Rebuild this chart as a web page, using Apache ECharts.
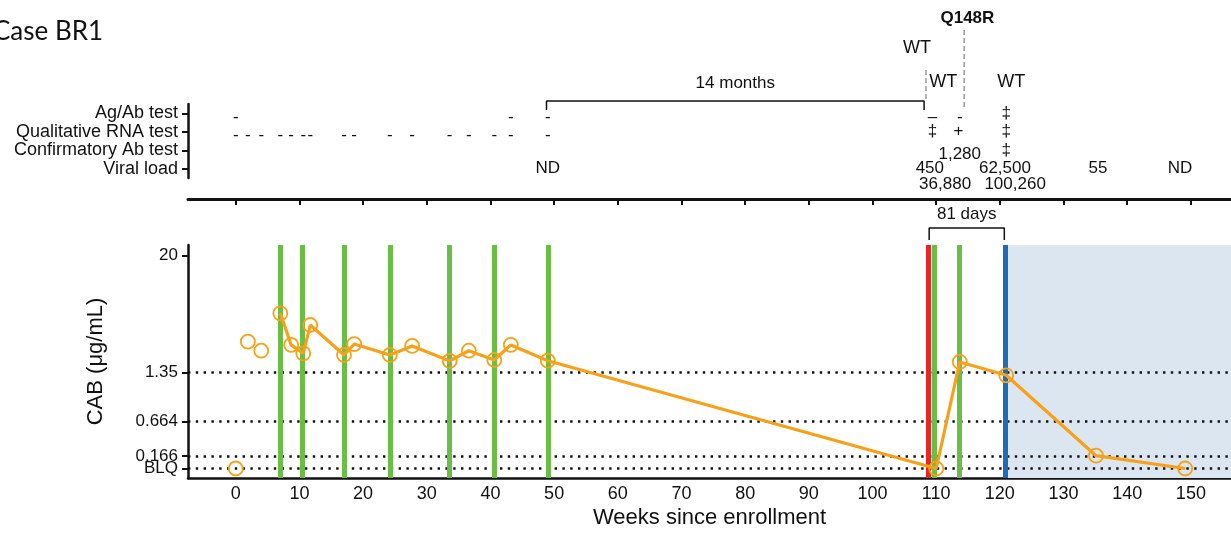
<!DOCTYPE html>
<html><head><meta charset="utf-8">
<script src="https://cdn.jsdelivr.net/npm/echarts@6/dist/echarts.min.js"></script>
<style>html,body{margin:0;padding:0;background:#fff}#c{width:1231px;height:534px}</style>
</head><body><div id="c"></div>
<script>
// ---------------- data ----------------
const xTicks = [0,10,20,30,40,50,60,70,80,90,100,110,120,130,140,150];
const yTickConc = [0, 0.166, 0.664, 1.35, 20];          // 0 = BLQ
const yTickLabels = ['BLQ', '0.166', '0.664', '1.35', '20'];
const preWeeks = [0, 1.9, 4.0];
const preConc  = [0, 2.76, 2.24];
const pkWeeks = [7.0, 8.7, 10.6, 11.7, 17.0, 18.6, 24.2, 27.7, 33.6, 36.6, 40.6, 43.2, 49.0, 110.0, 113.7, 121.0, 135.1, 149.1];
const pkConc  = [5.30, 2.56, 2.11, 4.05, 2.03, 2.61, 2.03, 2.50, 1.77, 2.24, 1.81, 2.56, 1.78, 0, 1.73, 1.30, 0.168, 0];
const injWeeks = [7.0, 10.5, 17.0, 24.2, 33.6, 40.6, 49.0, 109.7, 113.6];
const seroWeek = 108.8;
const artWeek = 120.8;
const refLevels = [1.35, 0.664, 0.166, 0];
const testRows = ['Viral load', 'Confirmatory Ab test', 'Qualitative RNA test', 'Ag/Ab test'];
const agabWeeks = [0, 43.2, 49.0, 109.4, 113.7, 121.0];
const agabText  = ['-', '-', '-', '–', '-', '‡'];
const rnaWeeks = [0, 1.9, 4.0, 7.0, 8.7, 10.6, 11.7, 17.0, 18.6, 24.2, 27.7, 33.6, 36.6, 40.6, 43.2, 49.0, 109.4, 113.5, 121.0];
const rnaText  = ['-','-','-','-','-','-','-','-','-','-','-','-','-','-','-','-','‡','+','‡'];
const confWeeks = [121.0];
const confText  = ['‡'];
const vlWeeks = [49.0, 109.0, 111.4, 113.7, 120.8, 122.4, 135.4, 148.3];
const vlText  = ['ND', '450', '36,880', '1,280', '62,500', '100,260', '55', 'ND'];
const genoWeeks = [107.0, 111.1, 114.9, 121.8];
const genoText  = ['WT', 'WT', 'Q148R', 'WT'];
const bracket14 = [48.8, 108.1];
const bracket81 = [108.9, 120.7];
const seqLines = [108.4, 114.4];

// ---------------- layout / style ----------------
const XMIN = -7.5, XMAX = 156.3;
const yAnchorU = [0, 12.5, 47, 95.8, 212.8];
const vlShift = [0, 0, 16, -14, 0, 16, 0, 0];
const genoY = [48, 82, 18, 82];
const ORANGE = '#F7A11A', GREEN = '#6ABD45', RED = '#E8262A', BLUE = '#1F6BB6';
const FONT = 'Liberation Sans';
const INK = '#111111';

function toAxis(c) {
  if (c <= 0) return 0;
  if (c <= yTickConc[1]) return c / yTickConc[1] * yAnchorU[1];
  for (let i = 1; i < yTickConc.length - 1; i++) {
    if (c <= yTickConc[i + 1] || i === yTickConc.length - 2) {
      const t = Math.log(c / yTickConc[i]) / Math.log(yTickConc[i + 1] / yTickConc[i]);
      return yAnchorU[i] + t * (yAnchorU[i + 1] - yAnchorU[i]);
    }
  }
}
const yTickU = yTickConc.map(toAxis);
// the two lowest tick labels sit too close for the axis' own label layout; draw them as text marks
const axisLabelIdx = [2, 3, 4];
const sideLabelIdx = [0, 1];

function textSeries(weeks, texts, rowIdx, opts) {
  opts = opts || {};
  return {
    type: 'scatter', xAxisIndex: 1, yAxisIndex: 1, symbolSize: 0, silent: true, z: 5,
    itemStyle: { opacity: 1 },
    data: weeks.map((w, i) => ({
      value: [w, rowIdx],
      label: { offset: [0, (opts.shift ? opts.shift[i] : 0) + (/^[-–]$/.test(texts[i]) ? 4 : 0)] }
    })),
    label: {
      show: true, position: 'inside', color: INK, fontFamily: FONT, fontSize: opts.fontSize || 17,
      formatter: p => texts[p.dataIndex]
    }
  };
}

const chart = echarts.init(document.getElementById('c'), null, { renderer: 'canvas' });
const option = {
  animation: false,
  backgroundColor: '#fff',
  textStyle: { fontFamily: FONT },
  graphic: [{ type: 'text', x: -7, y: 19, style: { text: 'Case BR1', font: '26px Lato', fill: INK } }],
  grid: [
    { left: 188, right: 0, top: 245, height: 233 },
    { left: 188, right: 0, top: 104, height: 74 },
    { left: 188, right: 0, top: 0, height: 534 }
  ],
  xAxis: [
    {
      gridIndex: 0, type: 'value', min: XMIN, max: XMAX,
      name: 'Weeks since enrollment', nameLocation: 'middle', nameGap: 29,
      nameTextStyle: { fontSize: 22, color: INK, fontFamily: FONT },
      axisLine: { show: true, onZero: false, lineStyle: { color: INK, width: 2.5 } },
      axisTick: { show: false },
      splitLine: { show: false },
      axisLabel: { customValues: xTicks, fontSize: 18, color: INK, margin: 7, fontFamily: FONT, hideOverlap: false }
    },
    {
      gridIndex: 1, type: 'value', min: XMIN, max: XMAX, offset: 21,
      axisLine: { show: true, onZero: false, lineStyle: { color: INK, width: 3 } },
      axisTick: { show: true, customValues: xTicks, length: 6, lineStyle: { color: INK, width: 2 } },
      axisLabel: { show: false },
      splitLine: { show: false }
    },
    { gridIndex: 2, type: 'value', min: XMIN, max: XMAX, show: false }
  ],
  yAxis: [
    {
      gridIndex: 0, type: 'value', min: -9.5, max: 223.5,
      name: 'CAB (μg/mL)', nameLocation: 'middle', nameGap: 81, nameRotate: 90,
      nameTextStyle: { fontSize: 22, color: INK, fontFamily: FONT },
      axisLine: { show: true, onZero: false, lineStyle: { color: INK, width: 2.5 } },
      axisTick: { show: true, customValues: yTickU, length: 6, lineStyle: { color: INK, width: 2 } },
      splitLine: { show: false },
      axisLabel: {
        customValues: axisLabelIdx.map(i => yTickU[i]), fontSize: 17, color: INK, margin: 10, fontFamily: FONT,
        hideOverlap: false,
        formatter: v => {
          let best = 0;
          yTickU.forEach((u, i) => { if (Math.abs(u - v) < Math.abs(yTickU[best] - v)) best = i; });
          return yTickLabels[best];
        }
      }
    },
    {
      gridIndex: 1, type: 'category', data: testRows,
      axisLine: { show: true, onZero: false, lineStyle: { color: INK, width: 2.5 } },
      axisTick: { show: true, alignWithLabel: true, interval: 0, length: 6, lineStyle: { color: INK, width: 2 } },
      axisLabel: { interval: 0, fontSize: 18, color: INK, margin: 10, fontFamily: FONT, hideOverlap: false },
      splitLine: { show: false }
    },
    { gridIndex: 2, type: 'value', min: 0, max: 534, inverse: true, show: false }
  ],
  series: [
    { // treatment period background
      type: 'line', xAxisIndex: 0, yAxisIndex: 0, data: [], z: 1, silent: true,
      markArea: { silent: true, itemStyle: { color: '#DCE6F1' },
        data: [[{ xAxis: artWeek }, { xAxis: XMAX }]] }
    },
    { // reference levels
      type: 'line', xAxisIndex: 0, yAxisIndex: 0, data: [], z: 2, silent: true,
      markLine: { silent: true, symbol: 'none', label: { show: false },
        lineStyle: { color: INK, width: 2.5, type: [2.4, 5.4] },
        data: refLevels.map(c => ({ yAxis: toAxis(c) })) }
    },
    { // injections / events
      type: 'line', xAxisIndex: 0, yAxisIndex: 0, data: [], z: 3, silent: true,
      markLine: { silent: true, symbol: 'none', label: { show: false },
        lineStyle: { color: GREEN, width: 5, type: 'solid' },
        data: injWeeks.map(w => ({ xAxis: w }))
          .concat([{ xAxis: seroWeek, lineStyle: { color: RED, width: 5, type: 'solid' } },
                   { xAxis: artWeek, lineStyle: { color: BLUE, width: 5, type: 'solid' } }]) }
    },
    { // low tick labels (BLQ / 0.166)
      type: 'scatter', xAxisIndex: 0, yAxisIndex: 0, symbolSize: 0, silent: true, clip: false, z: 7,
      itemStyle: { opacity: 1 },
      data: sideLabelIdx.map(i => [XMIN, yTickU[i]]),
      label: { show: true, position: 'left', distance: 10, color: INK, fontSize: 17, fontFamily: FONT,
        formatter: p => yTickLabels[sideLabelIdx[p.dataIndex]] }
    },
    {
      type: 'scatter', xAxisIndex: 0, yAxisIndex: 0, z: 6, symbol: 'circle', symbolSize: 14,
      itemStyle: { color: 'rgba(0,0,0,0)', borderColor: ORANGE, borderWidth: 1.8, opacity: 1 },
      data: preWeeks.map((w, i) => [w, toAxis(preConc[i])])
    },
    {
      type: 'line', xAxisIndex: 0, yAxisIndex: 0, z: 6, symbol: 'circle', symbolSize: 14, showAllSymbol: true,
      lineStyle: { color: ORANGE, width: 3.2 },
      itemStyle: { color: 'rgba(0,0,0,0)', borderColor: ORANGE, borderWidth: 1.8 },
      data: pkWeeks.map((w, i) => [w, toAxis(pkConc[i])])
    },
    textSeries(agabWeeks, agabText, 3),
    textSeries(rnaWeeks, rnaText, 2),
    textSeries(confWeeks, confText, 1),
    textSeries(vlWeeks, vlText, 0, { shift: vlShift }),
    { // genotype labels
      type: 'scatter', xAxisIndex: 2, yAxisIndex: 2, symbolSize: 0, silent: true, z: 5,
      itemStyle: { opacity: 1 },
      data: genoWeeks.map((w, i) => ({ value: [w, genoY[i]],
        label: genoText[i] === 'Q148R' ? { fontWeight: 'bold', fontSize: 17 } : {} })),
      label: { show: true, position: 'inside', color: INK, fontSize: 18, fontFamily: FONT,
        formatter: p => genoText[p.dataIndex] }
    },
    { // bracket labels
      type: 'scatter', xAxisIndex: 2, yAxisIndex: 2, symbolSize: 0, silent: true, z: 5,
      itemStyle: { opacity: 1 },
      data: [[(bracket14[0] + bracket14[1]) / 2, 83], [(bracket81[0] + bracket81[1]) / 2, 214]],
      label: { show: true, position: 'inside', color: INK, fontSize: 17, fontFamily: FONT,
        formatter: p => ['14 months', '81 days'][p.dataIndex] }
    },
    {
      type: 'line', xAxisIndex: 2, yAxisIndex: 2, symbol: 'none', silent: true, z: 4,
      lineStyle: { color: INK, width: 1.5 },
      data: [[bracket14[0], 110], [bracket14[0], 101], [bracket14[1], 101], [bracket14[1], 110]]
    },
    {
      type: 'line', xAxisIndex: 2, yAxisIndex: 2, symbol: 'none', silent: true, z: 4,
      lineStyle: { color: INK, width: 1.5 },
      data: [[bracket81[0], 240], [bracket81[0], 228], [bracket81[1], 228], [bracket81[1], 240]]
    },
    {
      type: 'line', xAxisIndex: 2, yAxisIndex: 2, symbol: 'none', silent: true, z: 4,
      lineStyle: { color: '#9a9a9a', width: 1.5, type: [5, 3] },
      data: [[seqLines[0], 70], [seqLines[0], 101]]
    },
    {
      type: 'line', xAxisIndex: 2, yAxisIndex: 2, symbol: 'none', silent: true, z: 4,
      lineStyle: { color: '#9a9a9a', width: 1.5, type: [5, 3] },
      data: [[seqLines[1], 30], [seqLines[1], 107]]
    }
  ]
};
chart.setOption(option);
</script>
</body></html>
